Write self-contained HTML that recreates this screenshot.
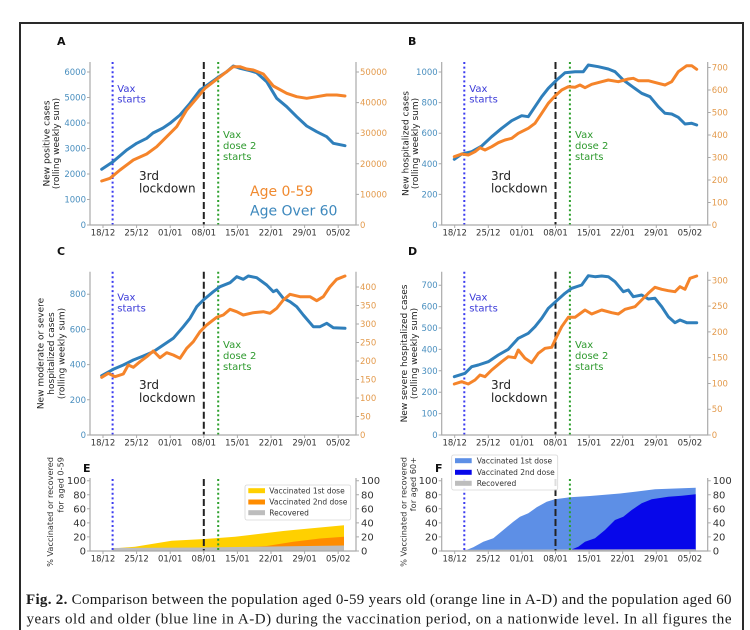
<!DOCTYPE html>
<html>
<head>
<meta charset="utf-8">
<style>
html,body{margin:0;padding:0;background:#fff;overflow:hidden;}
svg{display:block;}
.t{font-family:"DejaVu Sans","Liberation Sans",sans-serif;}
.tl{font-size:8.5px;fill:#4a8fbf;}
.tr{font-size:8.5px;fill:#e39a4c;}
.tx{font-size:8.5px;fill:#333;}
.te{font-size:10px;fill:#333;}
.yl{font-size:9px;fill:#222;}
.pl{font-size:11px;font-weight:bold;fill:#111;}
.sp{stroke:#aaa;stroke-width:1.2;fill:none;}
.tk{stroke:#aaa;stroke-width:1;}
.bl{fill:none;stroke:#2f7fbb;stroke-width:3;stroke-linejoin:round;stroke-linecap:round;}
.or{fill:none;stroke:#f5842a;stroke-width:3;stroke-linejoin:round;stroke-linecap:round;}
.vb{stroke:#3b3bf0;stroke-width:2;stroke-dasharray:2 2.6;}
.vk{stroke:#222;stroke-width:2;stroke-dasharray:7 3;}
.vg{stroke:#2ca02c;stroke-width:2;stroke-dasharray:2 2.6;}
.ab{font-size:10px;fill:#3b3bd8;}
.ag{font-size:10px;fill:#2e9a2e;}
.ak{font-size:12px;fill:#222;}
.lg{font-size:7.5px;fill:#333;}
</style>
</head>
<body>
<svg width="750" height="630" viewBox="0 0 750 630" xmlns="http://www.w3.org/2000/svg">
<rect x="0" y="0" width="750" height="630" fill="#fff"/>
<path d="M20,630 V23 H743 V630" fill="none" stroke="#2a2a2a" stroke-width="2"/>

<g class="t">
<!-- Panel letters -->
<text class="pl" x="57" y="45">A</text>
<text class="pl" x="408" y="45">B</text>
<text class="pl" x="57" y="255">C</text>
<text class="pl" x="408" y="255">D</text>
<text class="pl" x="83" y="472">E</text>
<text class="pl" x="435" y="472">F</text>

<!-- ================= PANEL A ================= -->
<line class="vb" x1="112.6" y1="62" x2="112.6" y2="225"/>
<line class="vk" x1="203.8" y1="62" x2="203.8" y2="225"/>
<line class="vg" x1="218.2" y1="62" x2="218.2" y2="225"/>
<path class="bl" d="M101.7,169.3 L113,161.7 L126.7,150 L136.7,143.3 L146.7,138.3 L153,133 L163,128 L170,123.3 L180,115 L190,103.3 L200,90 L205,86.7 L216.7,78.3 L226.7,71.7 L233.3,66 L240,68.3 L250,70.7 L256.7,72.7 L266.7,81.7 L276.7,98.3 L286.7,106.7 L296.7,116.7 L306.7,126 L316.7,131.7 L326.7,136.7 L333.3,143.3 L345,145.7"/>
<path class="or" d="M101.7,181 L110,178.3 L120,170 L133.3,160 L146.7,154 L156.7,146.7 L166.7,136.7 L176.7,126.7 L186.7,110 L196.7,98.3 L205,88.3 L216.7,79.3 L226.7,71.7 L233.3,66.7 L240,66.7 L246.7,69 L253.3,70 L263.3,74 L273.3,86 L286.7,93.3 L296.7,96.7 L306.7,98.3 L316.7,96.7 L326.7,95 L336.7,95 L345,96"/>
<path class="sp" d="M90,62 V225 H356 V62"/>
<g class="tk">
<path d="M87,225H90M87,199.5H90M87,174H90M87,148.5H90M87,123H90M87,97.5H90M87,72H90"/>
<path d="M356,225H359M356,194.4H359M356,163.8H359M356,133.2H359M356,102.6H359M356,72H359"/>
<path d="M103,225V228M136.6,225V228M170.2,225V228M203.8,225V228M237.4,225V228M271,225V228M304.6,225V228M338.2,225V228"/>
</g>
<g class="tl" text-anchor="end">
<text x="86" y="228">0</text><text x="86" y="202.5">1000</text><text x="86" y="177">2000</text><text x="86" y="151.5">3000</text><text x="86" y="126">4000</text><text x="86" y="100.5">5000</text><text x="86" y="75">6000</text>
</g>
<g class="tr">
<text x="360" y="228">0</text><text x="360" y="197.4">10000</text><text x="360" y="166.8">20000</text><text x="360" y="136.2">30000</text><text x="360" y="105.6">40000</text><text x="360" y="75">50000</text>
</g>
<g class="tx" text-anchor="middle">
<text x="103" y="235.5">18/12</text><text x="136.6" y="235.5">25/12</text><text x="170.2" y="235.5">01/01</text><text x="203.8" y="235.5">08/01</text><text x="237.4" y="235.5">15/01</text><text x="271" y="235.5">22/01</text><text x="304.6" y="235.5">29/01</text><text x="338.2" y="235.5">05/02</text>
</g>
<g class="yl" text-anchor="middle" dominant-baseline="central">
<text transform="translate(47.7,143.5) rotate(-90)">New positive cases</text>
<text transform="translate(57,143.5) rotate(-90)">(rolling weekly sum)</text>
</g>
<text class="ab" x="117.3" y="92">Vax</text><text class="ab" x="117.3" y="102.5">starts</text>
<text class="ag" x="223" y="138">Vax</text><text class="ag" x="223" y="149">dose 2</text><text class="ag" x="223" y="160">starts</text>
<text class="ak" x="139" y="180">3rd</text><text class="ak" x="139" y="192.7">lockdown</text>
<text x="250" y="196" style="font-size:14px;fill:#f08a30">Age 0-59</text>
<text x="250" y="215.5" style="font-size:14px;fill:#3d88bd">Age Over 60</text>

<!-- ================= PANEL B ================= -->
<line class="vb" x1="464.3" y1="62" x2="464.3" y2="225"/>
<line class="vk" x1="555.5" y1="62" x2="555.5" y2="225"/>
<line class="vg" x1="569.9" y1="62" x2="569.9" y2="225"/>
<path class="bl" d="M454.3,159.3 L461.7,154 L471.7,151.7 L481.7,146 L491.7,136.7 L501.7,128.3 L511.7,120.7 L521.7,115.7 L528.3,116.7 L535,106.7 L541.7,96.7 L548.3,88.3 L556.7,80 L565,72.7 L575,71.7 L583.3,71.7 L588.3,65 L598.3,66.7 L608.3,69 L615,71.7 L623.3,80 L633.3,87.3 L641.7,93.3 L650,96.7 L658.3,106.7 L665,113.3 L671.7,114 L678.3,117.3 L685,124 L691.7,123.3 L696.7,125"/>
<path class="or" d="M454.3,156.7 L461.7,154 L468.3,155 L475,151.7 L480,147.7 L485,150 L491.7,146.7 L498.3,142.7 L505,140 L511.7,138.3 L518.3,133.3 L528.3,128.3 L535,123.3 L541.7,113.3 L548.3,103.3 L555,96 L561.7,90 L568.3,86.7 L575,87.3 L580,85 L585,87.7 L591.7,84.3 L601.7,81.7 L608.3,80 L618.3,81.7 L628.3,79 L633.3,78.3 L638.3,80.7 L648.3,80.7 L658.3,83.3 L665,85 L671.7,81.7 L678.3,71.7 L686.7,65.7 L691.7,65.7 L696.7,69.3"/>
<path class="sp" d="M441.7,62 V225 H707.7 V62"/>
<g class="tk">
<path d="M438.7,225H441.7M438.7,194.4H441.7M438.7,163.8H441.7M438.7,133.2H441.7M438.7,102.6H441.7M438.7,72H441.7"/>
<path d="M707.7,225H710.7M707.7,202.5H710.7M707.7,180H710.7M707.7,157.5H710.7M707.7,135H710.7M707.7,112.5H710.7M707.7,90H710.7M707.7,67.5H710.7"/>
<path d="M454.7,225V228M488.3,225V228M521.9,225V228M555.5,225V228M589.1,225V228M622.7,225V228M656.3,225V228M689.9,225V228"/>
</g>
<g class="tl" text-anchor="end">
<text x="437.7" y="228">0</text><text x="437.7" y="197.4">200</text><text x="437.7" y="166.8">400</text><text x="437.7" y="136.2">600</text><text x="437.7" y="105.6">800</text><text x="437.7" y="75">1000</text>
</g>
<g class="tr">
<text x="711.7" y="228">0</text><text x="711.7" y="205.5">100</text><text x="711.7" y="183">200</text><text x="711.7" y="160.5">300</text><text x="711.7" y="138">400</text><text x="711.7" y="115.5">500</text><text x="711.7" y="93">600</text><text x="711.7" y="70.5">700</text>
</g>
<g class="tx" text-anchor="middle">
<text x="454.7" y="235.5">18/12</text><text x="488.3" y="235.5">25/12</text><text x="521.9" y="235.5">01/01</text><text x="555.5" y="235.5">08/01</text><text x="589.1" y="235.5">15/01</text><text x="622.7" y="235.5">22/01</text><text x="656.3" y="235.5">29/01</text><text x="689.9" y="235.5">05/02</text>
</g>
<g class="yl" text-anchor="middle" dominant-baseline="central">
<text transform="translate(406.7,143.5) rotate(-90)">New hospitalized cases</text>
<text transform="translate(416,143.5) rotate(-90)">(rolling weekly sum)</text>
</g>
<text class="ab" x="469.3" y="92">Vax</text><text class="ab" x="469.3" y="102.5">starts</text>
<text class="ag" x="575" y="138">Vax</text><text class="ag" x="575" y="149">dose 2</text><text class="ag" x="575" y="160">starts</text>
<text class="ak" x="491" y="180">3rd</text><text class="ak" x="491" y="192.7">lockdown</text>

<!-- ================= PANEL C ================= -->
<line class="vb" x1="112.6" y1="271.7" x2="112.6" y2="435"/>
<line class="vk" x1="203.8" y1="271.7" x2="203.8" y2="435"/>
<line class="vg" x1="218.2" y1="271.7" x2="218.2" y2="435"/>
<path class="bl" d="M101.7,375.7 L113.3,369.3 L123.3,365 L133.3,360 L143.3,356 L153.3,351.7 L163.3,345 L173.3,338.3 L183.3,326.7 L190,318.3 L196.7,306.7 L203.3,300 L213.3,291.7 L220,286.7 L230,282.7 L236.7,276.7 L243.3,279.3 L248.3,276 L256.7,277.7 L266.7,285 L273.3,291.7 L276.7,290 L283.3,298.3 L290,301.7 L296.7,306.7 L303.3,315 L313.3,326.7 L320,326.7 L326.7,323.3 L333.3,327.7 L345,328.3"/>
<path class="or" d="M101.7,377.3 L108.3,373.3 L115,376.7 L123.3,374 L128.3,365 L133.3,367.3 L140,361.7 L146.7,356.7 L153.3,351 L160,357.7 L166.7,352.7 L173.3,355 L180,358.3 L186.7,348.3 L193.3,341.7 L200,331.7 L206.7,325 L216.7,317.3 L223.3,315 L230,309.3 L236.7,311.7 L243.3,315 L253.3,312.7 L263.3,311.7 L270,313.3 L276.7,308.3 L283.3,300 L290,294.3 L300,296.7 L310,296.7 L316.7,300.7 L323.3,296.7 L330,286.7 L336.7,279.3 L345,276"/>
<path class="sp" d="M90,271.7 V435 H356 V271.7"/>
<g class="tk">
<path d="M87,435H90M87,399.8H90M87,364.6H90M87,329.4H90M87,294.2H90"/>
<path d="M356,435H359M356,416.5H359M356,398H359M356,379.5H359M356,361H359M356,342.5H359M356,324H359M356,305.5H359M356,287H359"/>
<path d="M103,435V438M136.6,435V438M170.2,435V438M203.8,435V438M237.4,435V438M271,435V438M304.6,435V438M338.2,435V438"/>
</g>
<g class="tl" text-anchor="end">
<text x="86" y="438">0</text><text x="86" y="402.8">200</text><text x="86" y="367.6">400</text><text x="86" y="332.4">600</text><text x="86" y="297.2">800</text>
</g>
<g class="tr">
<text x="360" y="438">0</text><text x="360" y="419.5">50</text><text x="360" y="401">100</text><text x="360" y="382.5">150</text><text x="360" y="364">200</text><text x="360" y="345.5">250</text><text x="360" y="327">300</text><text x="360" y="308.5">350</text><text x="360" y="290">400</text>
</g>
<g class="tx" text-anchor="middle">
<text x="103" y="445.5">18/12</text><text x="136.6" y="445.5">25/12</text><text x="170.2" y="445.5">01/01</text><text x="203.8" y="445.5">08/01</text><text x="237.4" y="445.5">15/01</text><text x="271" y="445.5">22/01</text><text x="304.6" y="445.5">29/01</text><text x="338.2" y="445.5">05/02</text>
</g>
<g class="yl" text-anchor="middle" dominant-baseline="central">
<text transform="translate(41.7,353.5) rotate(-90)">New moderate or severe</text>
<text transform="translate(52,353.5) rotate(-90)">hospitalized cases</text>
<text transform="translate(62.5,353.5) rotate(-90)">(rolling weekly sum)</text>
</g>
<text class="ab" x="117.3" y="300.5">Vax</text><text class="ab" x="117.3" y="311.5">starts</text>
<text class="ag" x="223" y="348">Vax</text><text class="ag" x="223" y="359">dose 2</text><text class="ag" x="223" y="370">starts</text>
<text class="ak" x="139" y="389">3rd</text><text class="ak" x="139" y="402">lockdown</text>

<!-- ================= PANEL D ================= -->
<line class="vb" x1="464.3" y1="271.7" x2="464.3" y2="435"/>
<line class="vk" x1="555.5" y1="271.7" x2="555.5" y2="435"/>
<line class="vg" x1="569.9" y1="271.7" x2="569.9" y2="435"/>
<path class="bl" d="M454.3,376.7 L465,373.3 L471.7,366.7 L478.3,365 L488.3,361.7 L498.3,355 L508.3,349.3 L518.3,338.3 L528.3,333.3 L535,326.7 L541.7,318.3 L548.3,308.3 L556.7,300.7 L565,293.3 L571.7,288.3 L581.7,285 L588.3,275.7 L595,276.7 L601.7,276 L608.3,276.7 L615,281.7 L623.3,291.7 L628.3,290 L633.3,296.7 L641.7,295 L648.3,299 L655,298.3 L661.7,306.7 L668.3,316.7 L675,322.7 L680,320 L686.7,322.7 L696.7,322.7"/>
<path class="or" d="M454.3,384 L461.7,381.7 L468.3,384 L475,380 L480,375 L485,376.7 L491.7,370 L501.7,361.7 L508.3,356.7 L515,357.7 L518.3,350 L525,358.3 L531.7,362.7 L538.3,353.3 L545,348.3 L551.7,347.3 L556.7,336.7 L561.7,326.7 L568.3,317.3 L575,317.3 L585,310 L591.7,314 L601.7,310 L611.7,312.7 L618.3,314 L625,309.3 L635,306.7 L641.7,300 L648.3,293.3 L655,287.3 L661.7,289.3 L668.3,290.7 L675,291.7 L680,286.7 L685,289.3 L690,278.3 L696.7,276"/>
<path class="sp" d="M441.7,271.7 V435 H707.7 V271.7"/>
<g class="tk">
<path d="M438.7,435H441.7M438.7,413.6H441.7M438.7,392.2H441.7M438.7,370.8H441.7M438.7,349.4H441.7M438.7,328H441.7M438.7,306.6H441.7M438.7,285.2H441.7"/>
<path d="M707.7,435H710.7M707.7,409.2H710.7M707.7,383.5H710.7M707.7,357.6H710.7M707.7,331.9H710.7M707.7,306.1H710.7M707.7,280.3H710.7"/>
<path d="M454.7,435V438M488.3,435V438M521.9,435V438M555.5,435V438M589.1,435V438M622.7,435V438M656.3,435V438M689.9,435V438"/>
</g>
<g class="tl" text-anchor="end">
<text x="437.7" y="438">0</text><text x="437.7" y="416.6">100</text><text x="437.7" y="395.2">200</text><text x="437.7" y="373.8">300</text><text x="437.7" y="352.4">400</text><text x="437.7" y="331">500</text><text x="437.7" y="309.6">600</text><text x="437.7" y="288.2">700</text>
</g>
<g class="tr">
<text x="711.7" y="438">0</text><text x="711.7" y="412.2">50</text><text x="711.7" y="386.5">100</text><text x="711.7" y="360.6">150</text><text x="711.7" y="334.9">200</text><text x="711.7" y="309.1">250</text><text x="711.7" y="283.3">300</text>
</g>
<g class="tx" text-anchor="middle">
<text x="454.7" y="445.5">18/12</text><text x="488.3" y="445.5">25/12</text><text x="521.9" y="445.5">01/01</text><text x="555.5" y="445.5">08/01</text><text x="589.1" y="445.5">15/01</text><text x="622.7" y="445.5">22/01</text><text x="656.3" y="445.5">29/01</text><text x="689.9" y="445.5">05/02</text>
</g>
<g class="yl" text-anchor="middle" dominant-baseline="central">
<text transform="translate(405,353.5) rotate(-90)">New severe hospitalized cases</text>
<text transform="translate(415,353.5) rotate(-90)">(rolling weekly sum)</text>
</g>
<text class="ab" x="469.3" y="300.5">Vax</text><text class="ab" x="469.3" y="311.5">starts</text>
<text class="ag" x="575" y="348">Vax</text><text class="ag" x="575" y="359">dose 2</text><text class="ag" x="575" y="370">starts</text>
<text class="ak" x="491" y="389">3rd</text><text class="ak" x="491" y="402">lockdown</text>

<!-- ================= PANEL E ================= -->
<polygon fill="#ffd000" points="112.7,548.5 135,546.7 151.7,544 171.7,540.7 205,539 235,536.7 250,535 283.3,531 293.3,530 344,525.3 344,551 112.7,551"/>
<polygon fill="#ff8c00" points="240,547.5 266.7,546 293.3,541.7 320,538.5 344,536.7 344,551 240,551"/>
<polygon fill="#bdbdbd" points="112.7,548 200,547.5 344,545.5 344,551 112.7,551"/>
<line class="vb" x1="112.6" y1="479" x2="112.6" y2="551"/>
<line class="vk" x1="203.8" y1="479" x2="203.8" y2="551"/>
<line class="vg" x1="218.2" y1="479" x2="218.2" y2="551"/>
<path class="sp" d="M90,478 V551 H356 V478"/>
<g class="tk">
<path d="M87,551H90M87,536.9H90M87,522.9H90M87,508.8H90M87,494.8H90M87,480.7H90"/>
<path d="M356,551H359M356,536.9H359M356,522.9H359M356,508.8H359M356,494.8H359M356,480.7H359"/>
<path d="M103,551V554M136.6,551V554M170.2,551V554M203.8,551V554M237.4,551V554M271,551V554M304.6,551V554M338.2,551V554"/>
</g>
<g class="te" text-anchor="end">
<text x="86" y="554.5">0</text><text x="86" y="540.4">20</text><text x="86" y="526.4">40</text><text x="86" y="512.3">60</text><text x="86" y="498.3">80</text><text x="86" y="484.2">100</text>
</g>
<g class="te">
<text x="361" y="554.5">0</text><text x="361" y="540.4">20</text><text x="361" y="526.4">40</text><text x="361" y="512.3">60</text><text x="361" y="498.3">80</text><text x="361" y="484.2">100</text>
</g>
<g class="tx" text-anchor="middle">
<text x="103" y="561.5">18/12</text><text x="136.6" y="561.5">25/12</text><text x="170.2" y="561.5">01/01</text><text x="203.8" y="561.5">08/01</text><text x="237.4" y="561.5">15/01</text><text x="271" y="561.5">22/01</text><text x="304.6" y="561.5">29/01</text><text x="338.2" y="561.5">05/02</text>
</g>
<g style="font-size:8.2px;fill:#333" text-anchor="end" dominant-baseline="central">
<text transform="translate(50,457) rotate(-90)">% Vaccinated or recovered</text>
<text transform="translate(60.5,457) rotate(-90)">for aged 0-59</text>
</g>
<rect x="245" y="485" width="105.7" height="35" rx="2" fill="#fff" fill-opacity="0.85" stroke="#d6d6d6" stroke-width="0.8"/>
<rect x="248.3" y="488.2" width="16.7" height="5" fill="#ffd000"/>
<rect x="248.3" y="499.5" width="16.7" height="5" fill="#ff8c00"/>
<rect x="248.3" y="510.2" width="16.7" height="5" fill="#bdbdbd"/>
<text class="lg" x="269.3" y="493.4">Vaccinated 1st dose</text>
<text class="lg" x="269.3" y="504.7">Vaccinated 2nd dose</text>
<text class="lg" x="269.3" y="515.4">Recovered</text>

<!-- ================= PANEL F ================= -->
<polygon fill="#5d8fe6" points="464,551 473.3,547.3 483.3,541.7 493.3,538.3 503.3,530 513.3,521.7 520,516.7 528.3,513.3 536.7,507.3 546.7,501.7 555,499.3 570,497.3 590,496 620,493.5 655,489.3 695.7,487.7 695.7,551"/>
<polygon fill="#0707ea" points="570.3,550 578.3,546.7 585,541.7 595,538.3 605,530 615,520 623.3,516.7 631.7,510 641.7,503.3 651.7,499.3 658.3,498.3 668.3,496.7 681.7,495.7 695.7,494.3 695.7,551 570.3,551"/>
<polygon fill="#bdbdbd" points="464,549.8 695.7,549.2 695.7,551 464,551"/>
<line class="vb" x1="464.3" y1="479" x2="464.3" y2="551"/>
<line class="vk" x1="555.5" y1="479" x2="555.5" y2="551"/>
<line class="vg" x1="569.9" y1="479" x2="569.9" y2="551"/>
<path class="sp" d="M441.7,478 V551 H707.7 V478"/>
<g class="tk">
<path d="M438.7,551H441.7M438.7,536.9H441.7M438.7,522.9H441.7M438.7,508.8H441.7M438.7,494.8H441.7M438.7,480.7H441.7"/>
<path d="M707.7,551H710.7M707.7,536.9H710.7M707.7,522.9H710.7M707.7,508.8H710.7M707.7,494.8H710.7M707.7,480.7H710.7"/>
<path d="M454.7,551V554M488.3,551V554M521.9,551V554M555.5,551V554M589.1,551V554M622.7,551V554M656.3,551V554M689.9,551V554"/>
</g>
<g class="te" text-anchor="end">
<text x="437.7" y="554.5">0</text><text x="437.7" y="540.4">20</text><text x="437.7" y="526.4">40</text><text x="437.7" y="512.3">60</text><text x="437.7" y="498.3">80</text><text x="437.7" y="484.2">100</text>
</g>
<g class="te">
<text x="712.7" y="554.5">0</text><text x="712.7" y="540.4">20</text><text x="712.7" y="526.4">40</text><text x="712.7" y="512.3">60</text><text x="712.7" y="498.3">80</text><text x="712.7" y="484.2">100</text>
</g>
<g class="tx" text-anchor="middle">
<text x="454.7" y="561.5">18/12</text><text x="488.3" y="561.5">25/12</text><text x="521.9" y="561.5">01/01</text><text x="555.5" y="561.5">08/01</text><text x="589.1" y="561.5">15/01</text><text x="622.7" y="561.5">22/01</text><text x="656.3" y="561.5">29/01</text><text x="689.9" y="561.5">05/02</text>
</g>
<g style="font-size:8.2px;fill:#333" text-anchor="end" dominant-baseline="central">
<text transform="translate(403.3,457) rotate(-90)">% Vaccinated or recovered</text>
<text transform="translate(413,457) rotate(-90)">for aged 60+</text>
</g>
<rect x="451.7" y="455" width="106" height="35" rx="2" fill="#fff" fill-opacity="0.85" stroke="#d6d6d6" stroke-width="0.8"/>
<rect x="455" y="458.2" width="16.7" height="5" fill="#5d8fe6"/>
<rect x="455" y="469.8" width="16.7" height="5" fill="#0707ea"/>
<rect x="455" y="480.8" width="16.7" height="5" fill="#bdbdbd"/>
<text class="lg" x="476.7" y="463.4">Vaccinated 1st dose</text>
<text class="lg" x="476.7" y="475">Vaccinated 2nd dose</text>
<text class="lg" x="476.7" y="486">Recovered</text>
</g>

<!-- Caption -->
<g style="font-family:'Liberation Serif','Times New Roman',serif;font-size:15px;fill:#1c1c1c">
<text x="26" y="604" textLength="705.5" lengthAdjust="spacing"><tspan font-weight="bold">Fig. 2.</tspan> Comparison between the population aged 0-59 years old (orange line in A-D) and the population aged 60</text>
<text x="26.5" y="623.5" textLength="705" lengthAdjust="spacing">years old and older (blue line in A-D) during the vaccination period, on a nationwide level. In all figures the</text>
</g>
</svg>
</body>
</html>
